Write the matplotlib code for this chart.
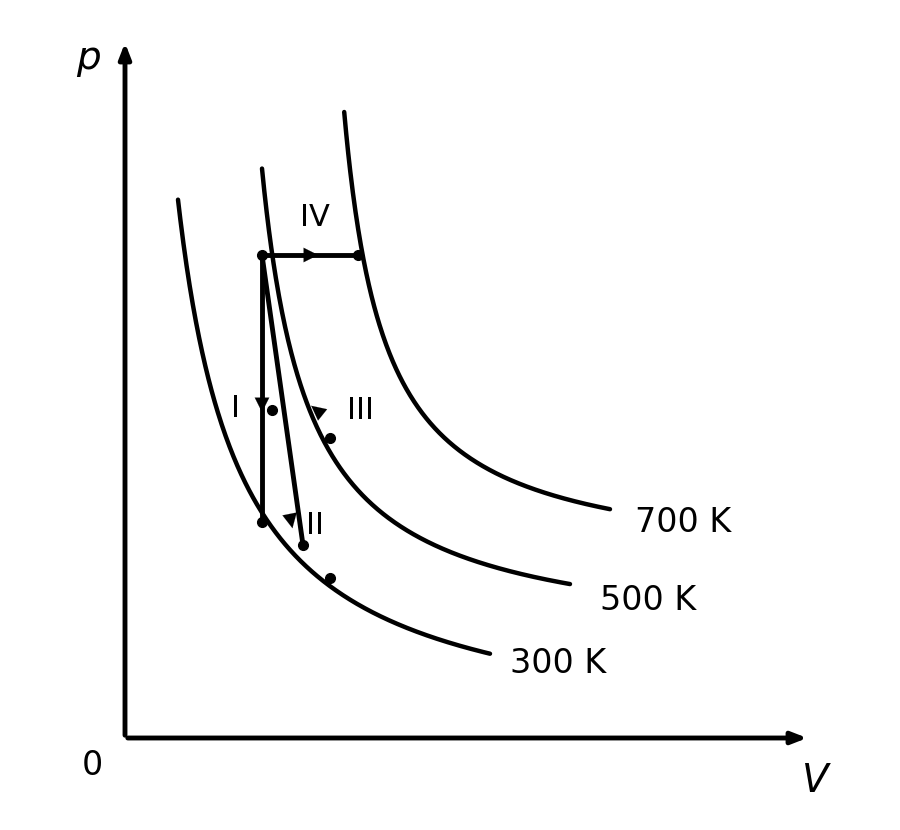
import numpy as np
import matplotlib
matplotlib.use("Agg")
import matplotlib.pyplot as plt

# read points (V, p) of each isotherm, in diagram units
iso_labels = ["300 K", "500 K", "700 K"]
iso_points = {
    "300 K": [(53, 540), (137, 216), (205, 160), (365, 83)],
    "500 K": [(137, 603), (140, 483), (205, 300), (445, 153)],
    "700 K": [(220, 633), (233, 483), (300, 330), (485, 228)],
}
iso_range = {"300 K": (53, 365), "500 K": (137, 445), "700 K": (219.2, 485)}
label_pos = {"300 K": (385, 75), "500 K": (475, 138), "700 K": (510, 216)}

# state points
A = (137, 483)   # top-left
B = (233, 483)   # top-right on 700 K
C = (137, 216)   # bottom of I
D = (178, 193)   # end of II
E = (205, 300)   # dot on 500 K
F = (205, 160)   # dot on 300 K
G = (147, 328)   # dot near II

fig = plt.figure(figsize=(9, 8.3), dpi=100)
ax = fig.add_axes([0, 0, 1, 1])
ax.set_xlim(-125, 775)
ax.set_ylim(-92, 738)
ax.axis("off")

def fit(pts):
    pts = np.array(pts, float)
    V, p = pts[:, 0], pts[:, 1]
    M = np.column_stack([np.ones_like(V), V, p])
    kp, c, b = np.linalg.lstsq(M, p * V, rcond=None)[0]
    return kp, c, b

for lab in iso_labels:
    kp, c, b = fit(iso_points[lab])
    k = kp + c * b
    V = np.linspace(*iso_range[lab], 400)
    p = k / (V - b) + c
    m = p < 640
    ax.plot(V[m], p[m], color="black", lw=3.2, solid_capstyle="round")
    ax.text(*label_pos[lab], lab, fontsize=24, ha="left", va="center")

lw = 3.5
ax.plot([A[0], B[0]], [A[1], B[1]], color="black", lw=lw)
ax.plot([A[0], C[0]], [A[1], C[1]], color="black", lw=lw)
ax.plot([A[0], D[0]], [A[1], D[1]], color="black", lw=lw)

for P in [A, B, C, D, E, F, G]:
    ax.plot(*P, "o", color="black", ms=7)

def arrowhead(x, y, dx, dy):
    ax.annotate("", xy=(x + dx, y + dy), xytext=(x, y),
                arrowprops=dict(arrowstyle="-|>,head_length=0.8,head_width=0.4",
                                color="black", lw=0.1, mutation_scale=13))

arrowhead(184, 483, 12, 0)
arrowhead(137, 338, 0, -15)
arrowhead(165, 222, 3, -15)
arrowhead(194, 326, -10, 8)

ax.text(190, 520, "IV", fontsize=22, ha="center", va="center")
ax.text(111, 330, "I", fontsize=22, ha="center", va="center")
ax.text(190, 213, "II", fontsize=22, ha="center", va="center")
ax.text(235, 328, "III", fontsize=22, ha="center", va="center")

# axes
ax.annotate("", xy=(685, 0), xytext=(0, 0),
            arrowprops=dict(arrowstyle="-|>,head_length=0.9,head_width=0.35", color="black", lw=3.5))
ax.annotate("", xy=(0, 698), xytext=(0, 0),
            arrowprops=dict(arrowstyle="-|>,head_length=0.9,head_width=0.35", color="black", lw=3.5))
ax.text(-37, 680, "p", fontsize=28, ha="center", va="center", style="italic")
ax.text(690, -43, "V", fontsize=28, ha="center", va="center", style="italic")
ax.text(-33, -27, "0", fontsize=24, ha="center", va="center")

fig.savefig("out.png", dpi=100)
